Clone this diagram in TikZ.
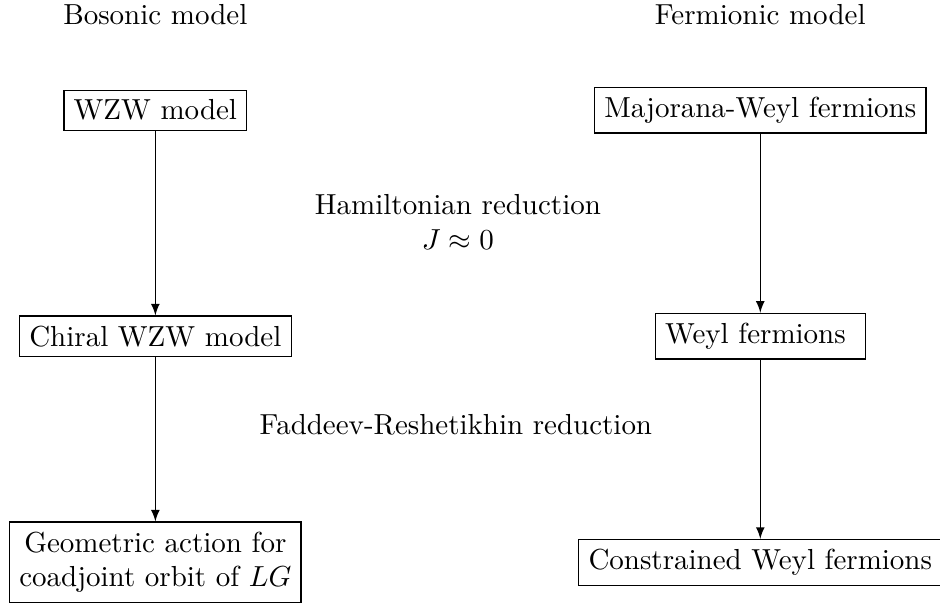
\documentclass[tikz,border=0pt]{standalone}
\usepackage{tikz}

\begin{document}
\begin{tikzpicture}[node distance=78pt]
\useasboundingbox (-53.6pt,38pt) rectangle (270.7pt,-172.5pt);
\node [shape=rectangle, draw] (WZW) {WZW model};
\node [shape=rectangle, draw, below of=WZW] (CWZW) {Chiral WZW model};
\node [shape=rectangle, draw, below of=CWZW, align=center] (GA) {Geometric action for\\coadjoint orbit of $LG$};
\node [shape=rectangle, draw, right of=WZW, node distance=208.7pt] (MW) {Majorana-Weyl fermions};
\node [shape=rectangle, draw, below of=MW] (WF) {Weyl fermions\ \null};
\node [shape=rectangle, draw, below of=WF] (CWF) {Constrained Weyl fermions};
\node [above of=WZW, node distance=32.8pt] (BM) {Bosonic model};
\node [above of=MW, node distance=32.8pt] (FM) {Fermionic model};
\node [align=center] (HR) at (104.4pt,-38.5pt) {Hamiltonian reduction\\$J\approx 0$};
\node (FR) at (103.7pt,-108.7pt) {Faddeev-Reshetikhin reduction};

\draw[-latex] (WZW) -- (CWZW);
\draw[-latex] (CWZW) -- (GA);
\draw[-latex] (MW) -- (WF);
\draw[-latex] (WF) -- (CWF);
\end{tikzpicture}
\end{document}
